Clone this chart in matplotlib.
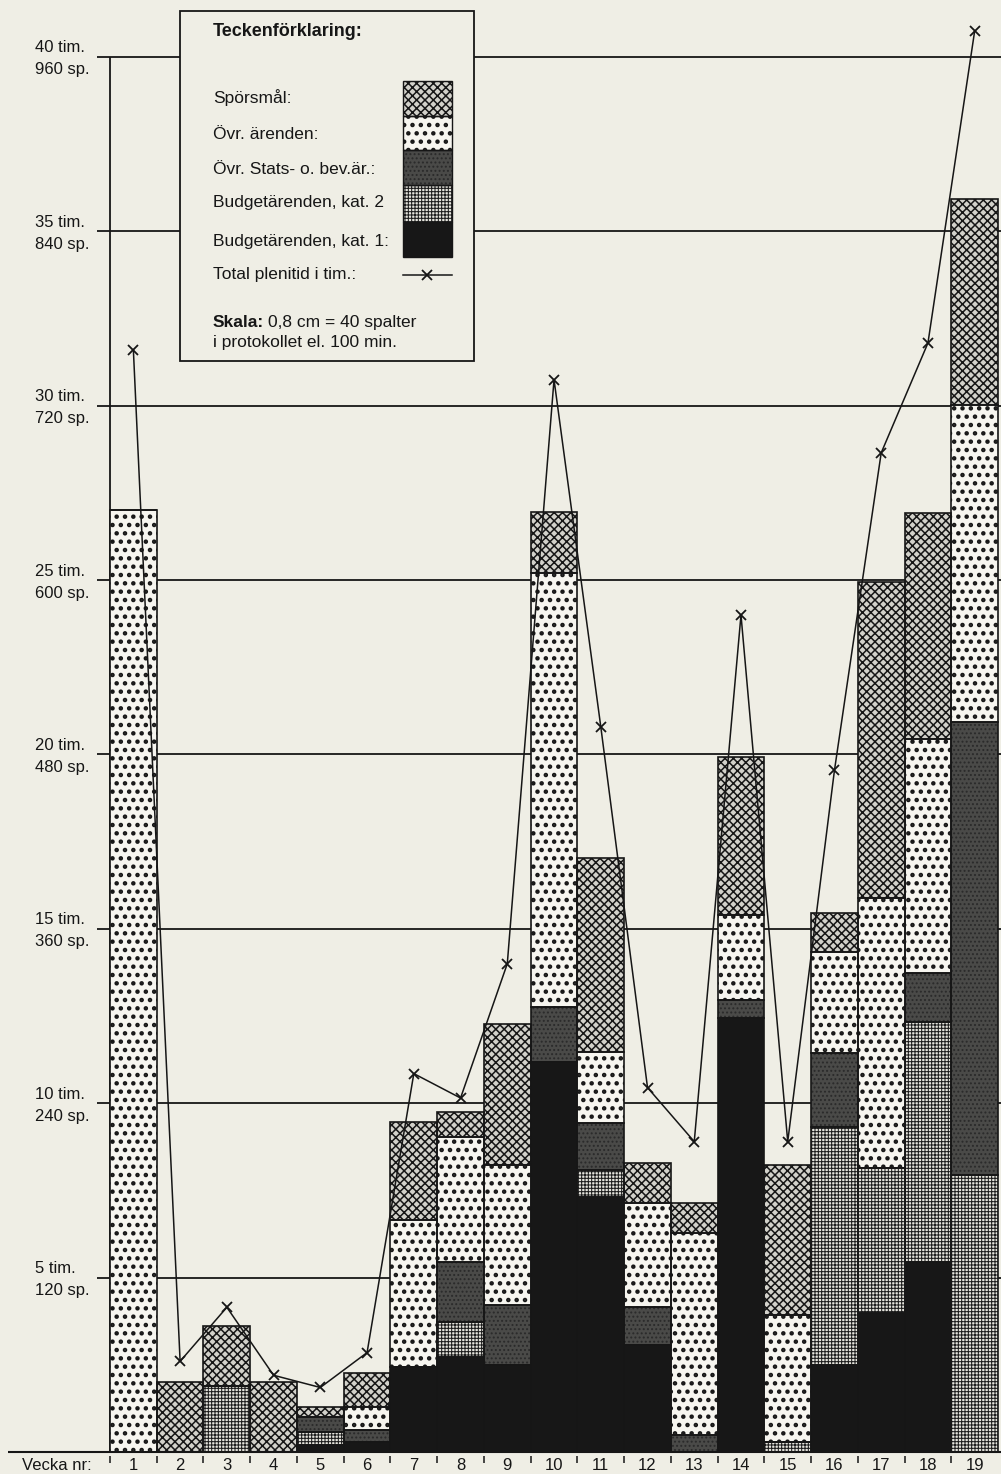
"""
Plenitid per vecka, uppdelad på ärendetyp (stapeldiagram med mönster).
"""

import numpy as np
import matplotlib.pyplot as plt
from matplotlib.patches import Rectangle

plt.rcParams['font.family'] = ['Liberation Sans', 'DejaVu Sans']

# ── Data (timmar per vecka, avlästa ur originalet) ───────────────────────────

weeks = list(range(1, 20))

kat1  = [0, 0, 0, 0, 0.20, 0.29, 2.44, 2.72, 2.49, 11.18, 7.31, 3.07, 0, 12.44, 0, 2.49, 3.99, 5.45, 0]
kat2  = [0, 0, 1.90, 0, 0.37, 0, 0, 1.01, 0, 0, 0.78, 0, 0, 0, 0.29, 6.83, 4.15, 6.88, 7.94]
stats = [0, 0, 0, 0, 0.43, 0.34, 0, 1.72, 1.73, 1.58, 1.34, 1.09, 0.49, 0.52, 0, 2.12, 0, 1.40, 12.99]
ovr   = [27.0, 0, 0, 0, 0, 0.66, 4.21, 3.58, 4.01, 12.44, 2.04, 2.98, 5.79, 2.44, 3.64, 2.90, 7.75, 6.71, 9.09]
spo   = [0, 2.0, 1.70, 2.0, 0.29, 0.98, 2.81, 0.72, 4.03, 1.75, 5.56, 1.15, 0.86, 4.53, 4.30, 1.12, 9.06, 6.48, 5.91]

total = [31.6, 2.6, 4.15, 2.2, 1.85, 2.85, 10.85, 10.15, 14.0, 30.75, 20.8, 10.45, 8.9, 24.0, 8.9, 19.55,
         28.65, 31.8, 40.75]

grid_hours = [5, 10, 15, 20, 25, 30, 35, 40]
grid_tim   = ["5 tim.", "10 tim.", "15 tim.", "20 tim.", "25 tim.", "30 tim.", "35 tim.", "40 tim."]
grid_sp    = ["120 sp.", "240 sp.", "360 sp.", "480 sp.", "600 sp.", "720 sp.", "840 sp.", "960 sp."]

# ── Sidans geometri (pixlar i originalet) ────────────────────────────────────

FIG_W, FIG_H = 1001, 1474
X_BAR0 = 110       # vänsterkant vecka 1
X_STEP = 46.74     # bredd per vecka
Y_ZERO = 1452      # baslinje
Y_HOUR = 34.875    # pixlar per timme

BG  = "#efeee5"
INK = "#161616"


def px_x(p):
    return 0.5 + (p - X_BAR0) / X_STEP


def px_y(p):
    return (Y_ZERO - p) / Y_HOUR


def hatch_lw(patches, lw):
    # mönsterlinjens bredd per lager (finns i nyare matplotlib)
    for p in patches:
        if hasattr(p, "set_hatch_linewidth"):
            p.set_hatch_linewidth(lw)


# lager nerifrån och upp: namn, värden, fyllnad, mönster, mönsterfärg, mönsterlinje
layers = [
    ("Budgetärenden, kat. 1:",    kat1,  "#171717", None,    INK,       0.5),
    ("Budgetärenden, kat. 2",     kat2,  "#e6e5de", "+++++", "#1e1e1e", 0.75),
    ("Övr. Stats- o. bev.är.:",   stats, "#4a4a48", "....",  "#2a2a2a", 0.9),
    ("Övr. ärenden:",             ovr,   "#f6f5ef", "..",    INK,       2.0),
    ("Spörsmål:",                 spo,   "#d2d1ca", "xxxx",  INK,       1.1),
]

# ── Figur ─────────────────────────────────────────────────────────────────────

fig = plt.figure(figsize=(FIG_W / 100, FIG_H / 100), dpi=100)
fig.patch.set_facecolor(BG)
ax = fig.add_axes([0, 0, 1, 1])
ax.set_facecolor(BG)
ax.set_xlim(px_x(0), px_x(FIG_W))
ax.set_ylim(px_y(FIG_H), px_y(0))
ax.axis("off")

# stödlinjer och vänster axel
ax.hlines(grid_hours, px_x(97), px_x(FIG_W), color=INK, lw=1.3, zorder=1)
ax.vlines(0.5, 0, 40, color=INK, lw=1.3, zorder=1)

for h, t, s in zip(grid_hours, grid_tim, grid_sp):
    ax.text(px_x(35), h + 9 / Y_HOUR, t, ha="left", va="center", fontsize=12, color=INK)
    ax.text(px_x(35), h - 13 / Y_HOUR, s, ha="left", va="center", fontsize=12, color=INK)

# staplar
bottom = np.zeros(len(weeks))
for name, vals, face, hatch, hcol, hlw in layers:
    with plt.rc_context({"hatch.linewidth": hlw}):
        bars = ax.bar(weeks, vals, bottom=bottom, width=1.0, color=face, edgecolor=hcol,
                      linewidth=0, hatch=hatch, zorder=2)
    hatch_lw(bars, hlw)
    ax.bar(weeks, vals, bottom=bottom, width=1.0, fill=False, edgecolor=INK,
           linewidth=1.2, zorder=3)
    bottom = bottom + np.array(vals)

# total plenitid
ax.plot(weeks, total, color=INK, lw=1.1, marker="x", ms=7, mew=1.3, zorder=5)

# x-axel
ax.hlines(0, px_x(8), px_x(FIG_W), color=INK, lw=1.5, zorder=4)
ax.vlines(np.arange(0.5, 19.5, 1.0), px_y(1456), px_y(1463), color=INK, lw=1.1, zorder=4)
ax.text(px_x(22), px_y(1465), "Vecka nr:", ha="left", va="center", fontsize=12, color=INK)
for w in weeks:
    ax.text(w, px_y(1465), str(w), ha="center", va="center", fontsize=12, color=INK)

# ── Teckenförklaring ─────────────────────────────────────────────────────────

box_l, box_r, box_t, box_b = px_x(180), px_x(474), px_y(11), px_y(361)
ax.add_patch(Rectangle((box_l, box_b), box_r - box_l, box_t - box_b, facecolor=BG,
                       edgecolor=INK, lw=1.3, zorder=1.5))

ax.text(px_x(213), px_y(32), "Teckenförklaring:", ha="left", va="center",
        fontsize=13, fontweight="bold", color=INK, zorder=6)

label_y = {"Spörsmål:": 98, "Övr. ärenden:": 135, "Övr. Stats- o. bev.är.:": 170,
           "Budgetärenden, kat. 2": 203, "Budgetärenden, kat. 1:": 242}
swatch_y = {"Spörsmål:": (81, 116), "Övr. ärenden:": (116, 150),
            "Övr. Stats- o. bev.är.:": (150, 185), "Budgetärenden, kat. 2": (185, 222),
            "Budgetärenden, kat. 1:": (222, 257)}

sw_l, sw_r = px_x(403), px_x(452)
for name, vals, face, hatch, hcol, hlw in layers:
    ax.text(px_x(213), px_y(label_y[name]), name, ha="left", va="center",
            fontsize=12.5, color=INK, zorder=6)
    top, bot = swatch_y[name]
    with plt.rc_context({"hatch.linewidth": hlw}):
        sw = Rectangle((sw_l, px_y(bot)), sw_r - sw_l, px_y(top) - px_y(bot),
                       facecolor=face, edgecolor=hcol, lw=0, hatch=hatch, zorder=6)
    hatch_lw([sw], hlw)
    ax.add_patch(sw)
    ax.add_patch(Rectangle((sw_l, px_y(bot)), sw_r - sw_l, px_y(top) - px_y(bot),
                           fill=False, edgecolor=INK, lw=1.0, zorder=7))

ax.text(px_x(213), px_y(275), "Total plenitid i tim.:", ha="left", va="center",
        fontsize=12.5, color=INK, zorder=6)
ax.plot([sw_l, sw_r], [px_y(275), px_y(275)], color=INK, lw=1.1, zorder=6)
ax.plot([px_x(427)], [px_y(275)], color=INK, marker="x", ms=7, mew=1.3, zorder=6)

skala = ax.text(px_x(213), px_y(323), "Skala:", ha="left", va="center",
                fontsize=12.5, fontweight="bold", color=INK, zorder=6)
ax.annotate("0,8 cm = 40 spalter", xy=(1, 0), xycoords=skala, xytext=(3, 0),
            textcoords="offset points", ha="left", va="bottom", fontsize=12.5,
            color=INK, zorder=6)
ax.text(px_x(213), px_y(343), "i protokollet el. 100 min.", ha="left", va="center",
        fontsize=12.5, color=INK, zorder=6)

fig.savefig("out.png", dpi=100, facecolor=BG)
